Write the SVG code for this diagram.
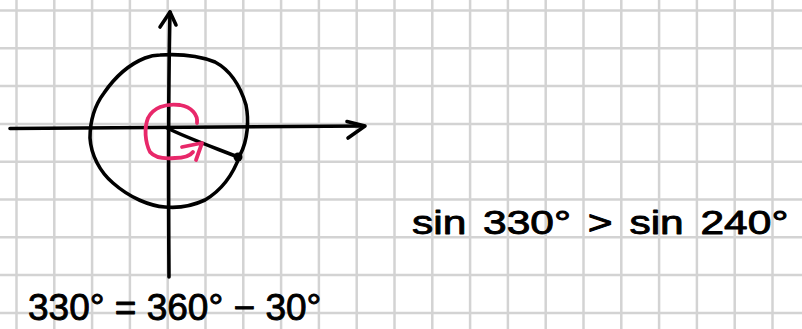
<svg xmlns="http://www.w3.org/2000/svg" width="802" height="329" viewBox="0 0 802 329">
<defs>
<style>
.grid{stroke:#d3d3d3;stroke-width:2.5;fill:none}
.ink{stroke:#000;stroke-width:3.6;fill:none;stroke-linecap:round;stroke-linejoin:round}
.pink{stroke:#e8286a;stroke-width:3.8;fill:none;stroke-linecap:round;stroke-linejoin:round}
.hw{font-family:"Liberation Sans","DejaVu Sans",sans-serif;fill:#000;stroke:#000;stroke-width:0.9;stroke-linejoin:round}
</style>
</defs>
<rect width="802" height="329" fill="#fff"/>
<g id="grid" class="grid">
<path d="M16.5 0V329M54.3 0V329M92.1 0V329M129.9 0V329M167.7 0V329M205.5 0V329M243.3 0V329M281.1 0V329M318.9 0V329M356.7 0V329M394.5 0V329M432.3 0V329M470.1 0V329M507.9 0V329M545.7 0V329M583.5 0V329M621.3 0V329M659.1 0V329M696.9 0V329M734.7 0V329M772.5 0V329"/>
<path d="M0 10.5H802M0 48.3H802M0 86.1H802M0 123.9H802M0 161.7H802M0 199.5H802M0 237.3H802M0 275.1H802M0 312.9H802"/>
</g>
<g id="axes">
<path class="ink" d="M10 128.5 C80 127.5 200 126.5 364 126"/>
<path class="ink" d="M347 121.5 L365 126 L348 138"/>
<path class="ink" d="M169 277 C168.5 200 168 100 170 12"/>
<path class="ink" d="M160 27 L170 12 L176 25"/>
</g>
<g id="circle">
<path class="ink" d="M160 55 C175 54 195 54 215 62 C230 70 240 85 246 105 C249 120 248 140 240 155 C233 175 222 190 205 200 C190 207 175 208 165 207 C150 206 130 198 113 183 C100 172 91 155 90 138 C90 120 95 105 104 93 C115 77 130 64 145 58 C150 56 155 55 160 55Z"/>
<path class="ink" d="M167 128 C185 137 210 146 238 157"/>
<circle cx="238" cy="157" r="4.5" fill="#000"/>
</g>
<g id="rotation">
<path class="pink" d="M197 123 C198 115 192 107 180 105 C165 103 153 108 148 118 C144 128 145 142 150 152 C155 158 165 159 175 158 C185 158 190 156 193 152"/>
<path class="pink" d="M182 147 L202 143 L196 160"/>
</g>
<g id="eq1">
<text class="hw" x="28" y="320" font-size="37">330° = 360° − 30°</text>
</g>
<g id="eq2">
<text class="hw" font-size="34" word-spacing="4" transform="translate(412,234) scale(1.25,1)">sin 330° &gt; sin 240°</text>
</g>
</svg>
